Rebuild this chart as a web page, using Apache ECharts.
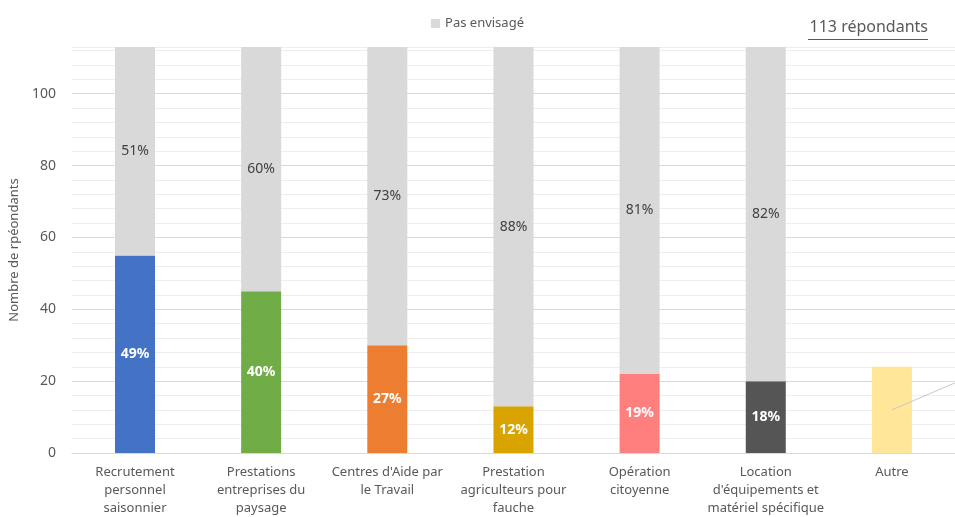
<!DOCTYPE html>
<html>
<head>
<meta charset="utf-8">
<script src="https://cdn.jsdelivr.net/npm/echarts@6/dist/echarts.min.js"></script>
<style>
html,body{margin:0;padding:0;background:#fff;}
#c{width:955px;height:517px;}
</style>
</head>
<body>
<div id="c"></div>
<script>
var categories = ["Recrutement\npersonnel\nsaisonnier", "Prestations\nentreprises du\npaysage", "Centres d'Aide par\nle Travail", "Prestation\nagriculteurs pour\nfauche", "Opération\ncitoyenne", "Location\nd'équipements et\nmatériel spécifique", "Autre"];
var envisageValues = [55, 45, 30, 13, 22, 20, 24];
var envisagePct = ["49%", "40%", "27%", "12%", "19%", "18%", "21%"];
var pasEnvisageValues = [58, 68, 83, 100, 91, 93, null];
var pasEnvisagePct = ["51%", "60%", "73%", "88%", "81%", "82%", ""];
var barColors = ["#4472C4", "#70AD47", "#ED7D31", "#D9A300", "#FF7F7F", "#555555", "#FFE699"];
var totalRespondents = 113;
var yTicks = [0, 20, 40, 60, 80, 100];

var FONT = "Noto Sans";
var chart = echarts.init(document.getElementById('c'), null, {renderer: 'canvas'});

var minor = '#EEEEEE', major = '#D9D9D9';

var option = {
  animation: false,
  textStyle: {fontFamily: FONT},
  legend: {
    data: ['Pas envisagé'],
    top: 12, left: 'center',
    itemWidth: 9, itemHeight: 9, itemGap: 6,
    icon: 'rect',
    textStyle: {fontFamily: FONT, fontSize: 13, color: '#595959'}
  },
  grid: {left: 71, right: -1, top: 47, bottom: 62},
  xAxis: {
    type: 'category',
    data: categories,
    axisLine: {show: true, lineStyle: {color: '#D9D9D9', width: 1}},
    axisTick: {show: false},
    axisLabel: {fontFamily: FONT, fontSize: 13, color: '#595959', lineHeight: 18, margin: 10, interval: 0}
  },
  yAxis: {
    type: 'value',
    min: 0, max: totalRespondents, interval: 4,
    name: 'Nombre de rpéondants',
    nameLocation: 'middle', nameGap: 44,
    nameTextStyle: {fontFamily: FONT, fontSize: 13, color: '#595959'},
    axisLine: {show: false}, axisTick: {show: false},
    axisLabel: {
      fontFamily: FONT, fontSize: 14, color: '#595959', margin: 16,
      formatter: function (v) { return yTicks.indexOf(v) >= 0 ? String(v) : ''; }
    },
    splitLine: {show: true, lineStyle: {color: [major, minor, minor, minor, minor], width: 1}}
  },
  series: [
    {
      name: 'Envisagé',
      type: 'bar',
      stack: 'total',
      barWidth: 40,
      data: envisageValues.map(function (v, i) {
        return {value: v, itemStyle: {color: barColors[i]}, label: {show: i !== 6}};
      }),
      label: {
        show: true, position: 'inside', color: '#FFFFFF', fontSize: 14, fontWeight: 'bold', fontFamily: FONT,
        formatter: function (p) { return envisagePct[p.dataIndex]; }
      }
    },
    {
      name: 'Pas envisagé',
      type: 'bar',
      stack: 'total',
      barWidth: 40,
      itemStyle: {color: '#D9D9D9'},
      data: pasEnvisageValues,
      label: {
        show: true, position: 'inside', color: '#404040', fontSize: 14, fontFamily: FONT,
        formatter: function (p) { return pasEnvisagePct[p.dataIndex]; }
      }
    }
  ]
};
chart.setOption(option);

// leader line of the displaced "Autre" label (label itself sits off-canvas)
var start = chart.convertToPixel({seriesIndex: 0}, [6, envisageValues[6] / 2]);
chart.setOption({
  graphic: [
    {type: 'text', right: 27, top: 19, style: {text: totalRespondents + ' répondants', font: '16px "' + FONT + '"', fill: '#595959'}},
    {type: 'rect', right: 27, top: 39, shape: {width: 120, height: 1}, style: {fill: '#595959'}},
    {type: 'line', shape: {x1: start[0], y1: start[1], x2: start[0] + 126, y2: start[1] - 54}, style: {stroke: '#C8C8C8', lineWidth: 1}, z: 100}
  ]
});
</script>
</body>
</html>
